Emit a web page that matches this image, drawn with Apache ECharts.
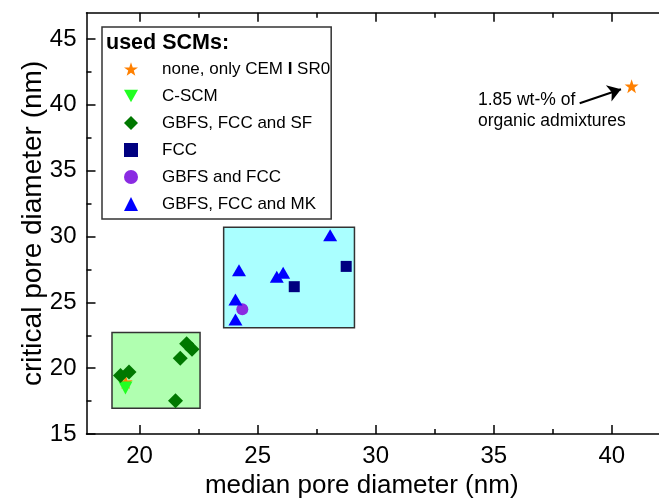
<!DOCTYPE html>
<html>
<head>
<meta charset="utf-8">
<script src="https://cdn.jsdelivr.net/npm/echarts@6/dist/echarts.min.js"></script>
<style>
  html, body { margin: 0; padding: 0; background: #fff; }
  #chart { width: 659px; height: 504px; }
</style>
</head>
<body>
<div id="chart"></div>
<script>
// data: [median, critical] in nm
const noneCem = [[19.41, 18.95], [40.84, 41.42]];
const cScm = [[19.40, 18.50]];
const gbfsFccSf = [[19.19, 19.45], [19.55, 19.70], [21.72, 20.75], [21.99, 21.85], [22.22, 21.44], [21.52, 17.52]];
const fccOnly = [[28.75, 27.73], [26.55, 26.19]];
const gbfsFcc = [[24.35, 24.47]];
const gbfsFccMk = [[28.07, 30.09], [24.21, 27.43], [25.81, 26.94], [26.08, 27.24], [24.06, 25.22], [24.06, 23.69]];

// shaded groups: [xFrom, yFrom, xTo, yTo]
const greenBox = [18.83, 16.95, 22.56, 22.70];
const cyanBox = [23.56, 23.07, 29.10, 30.71];

// arrow of the annotation: from, to
const arrowLine = [[38.64, 40.12], [40.39, 41.19]];

const xMajor = [20, 25, 30, 35, 40];
const xMinor = [22.5, 27.5, 32.5, 37.5];
const yMajor = [15, 20, 25, 30, 35, 40, 45];
const yMinor = [17.5, 22.5, 27.5, 32.5, 37.5, 42.5];

const names = ['none, only CEM I SR0', 'C-SCM', 'GBFS, FCC and SF', 'FCC', 'GBFS and FCC', 'GBFS, FCC and MK'];

const FONT = 'Liberation Sans, Arial, sans-serif';
const starPath = 'path://M50,0 L61.8,35.1 L97.6,34.5 L68.9,56.1 L79.4,90.5 L50,70 L20.6,90.5 L31.1,56.1 L2.4,34.5 L38.2,35.1 Z';
const triDown = 'path://M0,0 L10,0 L5,9 Z';

const chart = echarts.init(document.getElementById('chart'), null, { renderer: 'canvas' });

function xAx(position, ticks, len, withLine, withLabels) {
  return {
    type: 'value', position: position, min: 17.75, max: 42,
    splitLine: { show: false },
    axisLine: { show: withLine, lineStyle: { color: '#000', width: 1.5 } },
    axisTick: { show: true, inside: true, length: len, customValues: ticks, lineStyle: { color: '#000', width: 1.5 } },
    axisLabel: withLabels ? { show: true, customValues: xMajor, fontSize: 24, fontFamily: FONT, color: '#000', margin: 10 } : { show: false }
  };
}
function yAx(position, ticks, len, withLine, withLabels) {
  return {
    type: 'value', position: position, min: 15, max: 47,
    splitLine: { show: false },
    axisLine: { show: withLine, lineStyle: { color: '#000', width: 1.5 } },
    axisTick: { show: true, inside: true, length: len, customValues: ticks, lineStyle: { color: '#000', width: 1.5 } },
    axisLabel: withLabels ? { show: true, customValues: yMajor, fontSize: 24, fontFamily: FONT, color: '#000', margin: 10 } : { show: false }
  };
}

const xMain = xAx('bottom', xMajor, 9, true, true);
xMain.name = 'median pore diameter (nm)';
xMain.nameLocation = 'middle';
xMain.nameGap = 39;
xMain.nameTextStyle = { fontSize: 26, fontFamily: FONT, color: '#000', padding: [0, 22, 0, 0] };
const yMain = yAx('left', yMajor, 9, true, true);
yMain.name = 'critical pore diameter (nm)';
yMain.nameLocation = 'middle';
yMain.nameGap = 39;
yMain.nameMoveOverlap = false;
yMain.nameTextStyle = { fontSize: 28, fontFamily: FONT, color: '#000' };

function pts(name, data, symbol, size, color) {
  return {
    name: name, type: 'scatter', data: data, symbol: symbol, symbolSize: size,
    itemStyle: { color: color, opacity: 1 }, z: 5, animation: false
  };
}

const option = {
  animation: false,
  backgroundColor: '#fff',
  grid: { left: 86.5, top: 12.7, right: -2.4, bottom: 65.3, containLabel: false },
  xAxis: [xMain, xAx('bottom', xMinor, 5, false, false), xAx('top', xMajor, 9, true, false), xAx('top', xMinor, 5, false, false)],
  yAxis: [yMain, yAx('left', yMinor, 5, false, false)],
  legend: {
    data: names,
    orient: 'vertical',
    left: 102, top: 27,
    padding: [32, 1, 5, 22],
    itemGap: 7,
    itemWidth: 14, itemHeight: 14,
    borderColor: '#333', borderWidth: 1.5,
    backgroundColor: '#fff',
    selectedMode: false,
    textStyle: {
      fontSize: 17, fontFamily: FONT, color: '#000', lineHeight: 20, padding: [0, 0, 0, 19],
      rich: {
        a: { fontSize: 17, fontFamily: FONT, color: '#000', lineHeight: 20 },
        b: { fontSize: 17, fontFamily: FONT, color: '#000', lineHeight: 20, fontWeight: 'bold' }
      }
    },
    formatter: function (name) {
      if (name === names[0]) return '{a|none, only CEM }{b|I}{a| SR0}';
      return name;
    }
  },
  graphic: [
    { type: 'text', left: 106, top: 32, z: 100, style: { text: 'used SCMs:', font: 'bold 21.5px ' + FONT, fill: '#000' } },
    { type: 'text', left: 478, top: 90, z: 100, style: { text: '1.85 wt-% of\norganic admixtures', font: '17.5px ' + FONT, fill: '#000', lineHeight: 21 } }
  ],
  series: [
    {
      name: 'boxes', type: 'scatter', data: [], z: 1,
      markArea: {
        silent: true,
        label: { show: false },
        data: [
          [{ coord: [greenBox[0], greenBox[1]], itemStyle: { color: '#b0ffb0', borderColor: '#333', borderWidth: 1.5 } }, { coord: [greenBox[2], greenBox[3]] }],
          [{ coord: [cyanBox[0], cyanBox[1]], itemStyle: { color: '#aaffff', borderColor: '#333', borderWidth: 1.5 } }, { coord: [cyanBox[2], cyanBox[3]] }]
        ]
      }
    },
    {
      name: 'arrow', type: 'scatter', data: [], z: 6,
      markLine: {
        silent: true,
        symbol: ['none', 'arrow'],
        symbolSize: 13,
        label: { show: false },
        itemStyle: { color: '#000' },
        lineStyle: { color: '#000', width: 2, type: 'solid' },
        data: [[{ coord: arrowLine[0] }, { coord: arrowLine[1] }]]
      }
    },
    pts(names[0], noneCem, starPath, 14, '#ff8000'),
    pts(names[1], cScm, triDown, [14, 13], '#22ff22'),
    pts(names[2], gbfsFccSf, 'diamond', 15, '#007800'),
    pts(names[3], fccOnly, 'rect', 11, '#000080'),
    pts(names[4], gbfsFcc, 'circle', 12, '#8a2be2'),
    pts(names[5], gbfsFccMk, 'triangle', [14, 12], '#0000ff')
  ]
};

chart.setOption(option);
</script>
</body>
</html>
